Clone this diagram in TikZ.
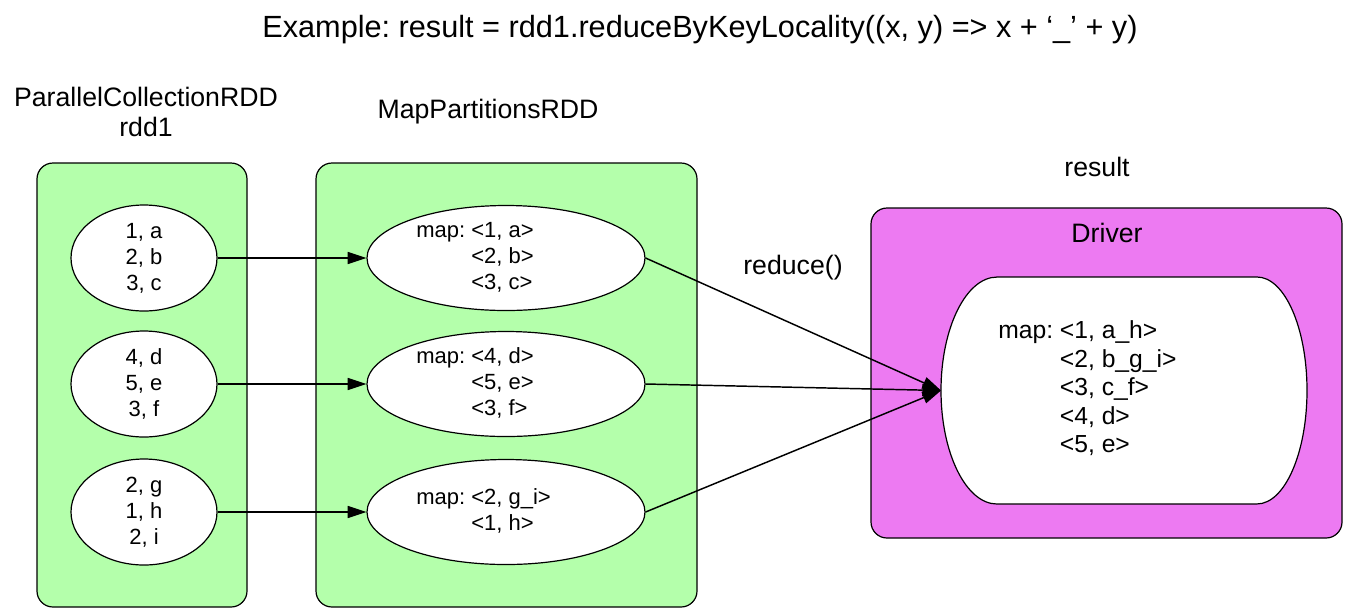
\documentclass[tikz,border=0pt]{standalone}
\usepackage{fontspec}
\setmainfont{Liberation Sans}
\usetikzlibrary{shapes.geometric,arrows.meta}
\definecolor{rddgreen}{RGB}{180,255,171}
\definecolor{drvpink}{RGB}{237,122,242}
\frenchspacing
\tikzset{
	rddbox/.style={draw, line width=0.9pt, fill=rddgreen, rounded corners=12pt},
	part/.style={draw, ellipse, fill=white, line width=0.9pt, inner sep=0pt},
	flow/.style={-{Triangle[length=14pt,width=9pt]}, line width=1.1pt},
	caption/.style={font=\fontsize{20}{22.5}\selectfont, align=center},
	entry/.style={font=\fontsize{16.5}{19.5}\selectfont, align=center, inner sep=0pt},
}

\begin{document}
\begin{tikzpicture}[x=0.75pt,y=-0.75pt]
				\useasboundingbox (0,0) rectangle (1358,612);
				
				\node[font=\fontsize{23}{27}\selectfont] (title) at (700,30) {Example: result = rdd1.reduceByKeyLocality((x, y) => x + ‘\_’ + y)};
				
				\node[caption] (pcrlbl) at (146,112) {ParallelCollectionRDD\\rdd1};
				\node[caption] (mplbl) at (488,112) {MapPartitionsRDD};
				\node[caption] (reslbl) at (1097,167) {result};
				\node[caption] (redlbl) at (793,268) {reduce()};
				
				\draw[rddbox] (37,163) rectangle (247,607);
				\draw[rddbox] (316,163) rectangle (697,607);
				\draw[rddbox, fill=drvpink] (871,208) rectangle (1342,538);
				\node[caption] (drvlbl) at (1107,233) {Driver};
				
				\draw[line width=0.9pt, fill=white] (997,277) -- (1257,277)
					arc[start angle=90, end angle=-90, x radius=37.5pt, y radius=85.1pt]
					-- (997,504)
					arc[start angle=270, end angle=90, x radius=42pt, y radius=85.1pt] -- cycle;
				\coordinate (drvin) at (941,390.5);
				\node[entry, anchor=west, font=\fontsize{18.5}{21.4}\selectfont] (drvtxt) at (998,390) {\begin{tabular}{@{}l@{ }l@{}}map: & <1, a\_h>\\ & <2, b\_g\_i>\\ & <3, c\_f>\\ & <4, d>\\ & <5, e>\end{tabular}};
				
				\node[part, minimum width=109.5pt, minimum height=79.5pt] (pcr1) at (144,258) {};
				\node[part, minimum width=109.5pt, minimum height=79.5pt] (pcr2) at (144,384) {};
				\node[part, minimum width=109.5pt, minimum height=79.5pt] (pcr3) at (144,512) {};
				\node[entry] at (pcr1) {1, a\\2, b\\3, c};
				\node[entry] at (pcr2) {4, d\\5, e\\3, f};
				\node[entry] at (pcr3) {2, g\\1, h\\2, i};
				
				\node[part, minimum width=208.5pt, minimum height=78.75pt] (mp1) at (506,258) {};
				\node[part, minimum width=208.5pt, minimum height=78.75pt] (mp2) at (506,384) {};
				\node[part, minimum width=208.5pt, minimum height=78.75pt] (mp3) at (506,512) {};
				\node[entry, anchor=west] (mp1txt) at (416,258) {\begin{tabular}{@{}l@{ }l@{}}map: & <1, a>\\ & <2, b>\\ & <3, c>\end{tabular}};
				\node[entry, anchor=west] (mp2txt) at (416,384) {\begin{tabular}{@{}l@{ }l@{}}map: & <4, d>\\ & <5, e>\\ & <3, f>\end{tabular}};
				\node[entry, anchor=west] (mp3txt) at (416,512) {\begin{tabular}{@{}l@{ }l@{}}map: & <2, g\_i>\\ & <1, h>\end{tabular}};
				
				\draw[flow] (pcr1) -- (mp1);
				\draw[flow] (pcr2) -- (mp2);
				\draw[flow] (pcr3) -- (mp3);
				\draw[flow] (mp1.east) -- (drvin);
				\draw[flow] (mp2.east) -- (drvin);
				\draw[flow] (mp3.east) -- (drvin);
			\end{tikzpicture}
\end{document}
